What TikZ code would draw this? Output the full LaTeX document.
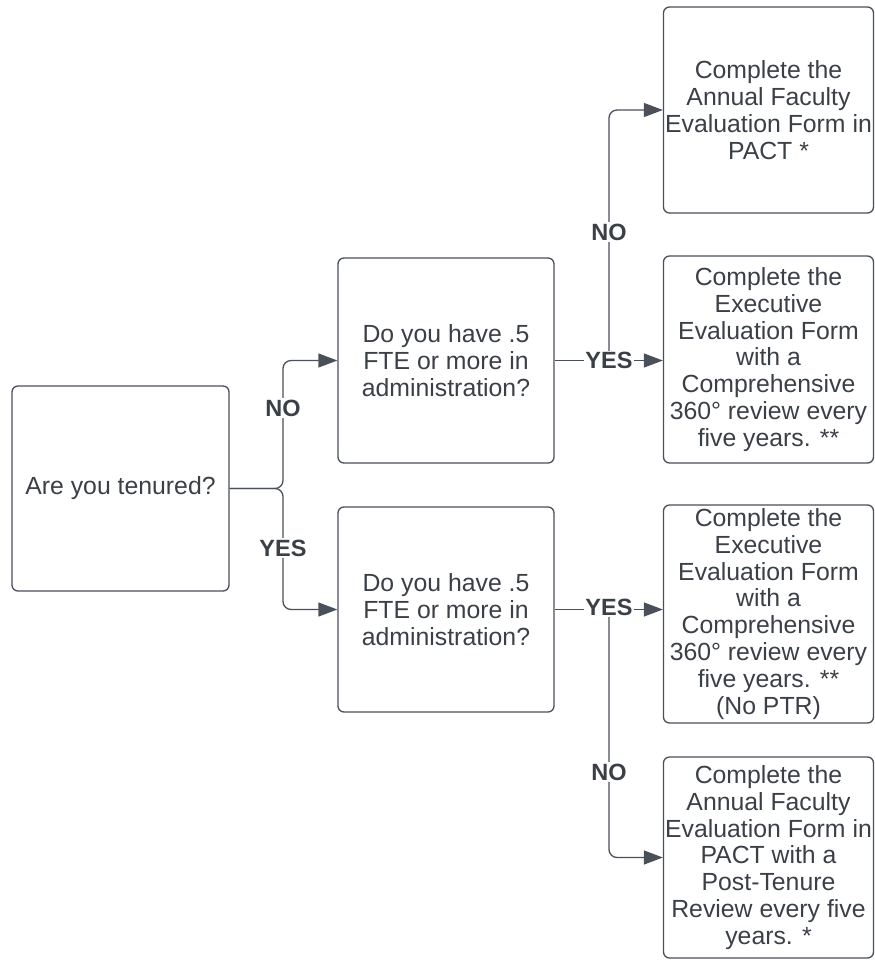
\documentclass[tikz,border=0pt]{standalone}
\usepackage{fontspec}
\setmainfont{Liberation Sans}
\usetikzlibrary{arrows.meta}

\definecolor{ink}{HTML}{3B3F46}
\definecolor{wire}{HTML}{4A5059}

\tikzset{
  box/.style={draw=wire, line width=1.3pt, rounded corners=6pt, align=center,
    text=ink, font=\fontsize{24.8}{26.9}\selectfont, inner sep=1.5pt},
  qbox/.style={box, minimum width=216pt, minimum height=205pt},
  rbox/.style={box, minimum width=210pt},
  link/.style={draw=wire, line width=1.3pt, rounded corners=8pt,
    -{Triangle[length=19pt,width=14pt]}},
  answer/.style={fill=white, text=ink, font=\bfseries\fontsize{23.5}{26}\selectfont, inner sep=1.5pt},
}

\begin{document}
\begin{tikzpicture}[x=1pt,y=-1pt]
\useasboundingbox (0,0) rectangle (875,962);

% Questions
\node[qbox, minimum width=217pt] (tenured) at (120.5,488.5) {Are you tenured?};
\node[qbox] (q1) at (446,360.5) {Do you have .5\\FTE or more in\\administration?};
\node[qbox] (q2) at (446,609.5) {Do you have .5\\FTE or more in\\administration?};

% Outcomes
\node[rbox, minimum height=206pt] (r1) at (768.5,110)
  {Complete the\\Annual Faculty\\Evaluation Form in\\PACT *};
\node[rbox, minimum height=207pt] (r2) at (768.5,359.5)
  {Complete the\\Executive\\Evaluation Form\\with a\\Comprehensive\\360° review every\\five years. **};
\node[rbox, minimum height=218pt] (r3) at (768.5,614)
  {Complete the\\Executive\\Evaluation Form\\with a\\Comprehensive\\360° review every\\five years. **\\(No PTR)};
\node[rbox, minimum height=201pt] (r4) at (768.5,857.5)
  {Complete the\\Annual Faculty\\Evaluation Form in\\PACT with a\\Post-Tenure\\Review every five\\years. *};

% Split points
\coordinate (tsplit) at (283,488.5);
\coordinate (s1) at (609,360.5);
\coordinate (s2) at (609,609.5);

% Connectors
\draw[link] (tenured.east) -- (tsplit) |- (q1.west);
\draw[link] (tenured.east) -- (tsplit) |- (q2.west);
\draw[link] (q1.east) -- (q1.east -| r2.west);
\draw[link] (s1) |- (r1.west);
\draw[link] (q2.east) -- (q2.east -| r3.west);
\draw[link] (s2) |- (r4.west);

% Labels
\node[answer] (tno) at (283,408) {NO};
\node[answer] (tyes) at (283,548) {YES};
\node[answer] (q1yes) at (609,360.5) {YES};
\node[answer] (q1no) at (609,232) {NO};
\node[answer] (q2yes) at (609,607) {YES};
\node[answer] (q2no) at (609,772) {NO};

\end{tikzpicture}
\end{document}
